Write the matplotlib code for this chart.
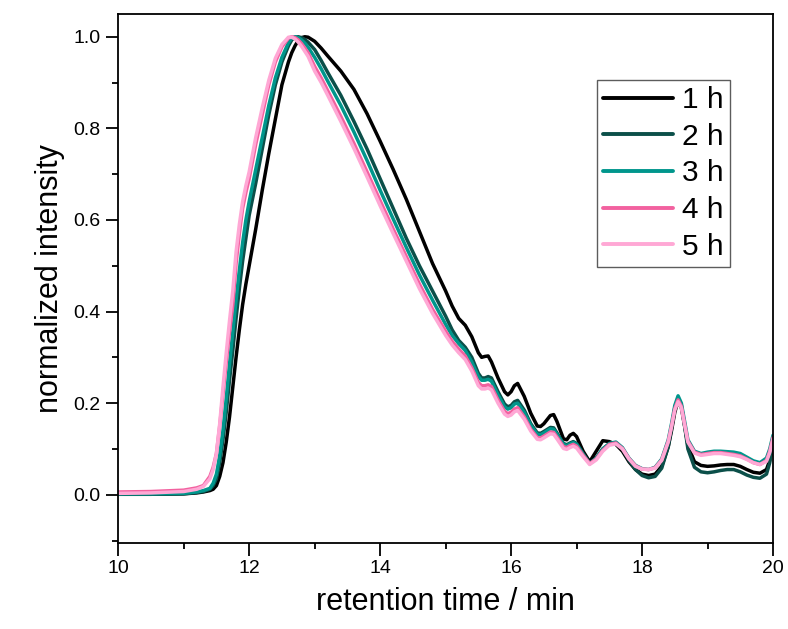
import matplotlib
matplotlib.use("Agg")
import matplotlib.pyplot as plt
from matplotlib.ticker import MultipleLocator, FormatStrFormatter

plt.rcParams['font.family'] = ['Liberation Sans', 'DejaVu Sans']

# retention time grid (min)
time_min = [10.0, 10.5, 11.0, 11.2, 11.3, 11.4, 11.45, 11.5, 11.55, 11.6, 11.65, 11.7, 11.75,
            11.8, 11.85, 11.9, 11.95, 12.0, 12.1, 12.2, 12.3, 12.4, 12.5, 12.6, 12.65, 12.7,
            12.75, 12.8, 12.85, 12.9, 13.0, 13.1, 13.2, 13.4, 13.6, 13.8, 14.0, 14.2, 14.4,
            14.6, 14.8, 15.0, 15.1, 15.2, 15.3, 15.4, 15.5, 15.55, 15.6, 15.65, 15.7, 15.8,
            15.9, 15.95, 16.0, 16.05, 16.1, 16.2, 16.3, 16.4, 16.45, 16.5, 16.6, 16.65, 16.7,
            16.8, 16.85, 16.9, 16.95, 17.0, 17.1, 17.2, 17.3, 17.4, 17.5, 17.6, 17.7, 17.8,
            17.9, 18.0, 18.1, 18.2, 18.3, 18.4, 18.45, 18.5, 18.55, 18.6, 18.65, 18.7, 18.8,
            18.9, 19.0, 19.1, 19.2, 19.3, 19.4, 19.5, 19.6, 19.7, 19.8, 19.9, 19.95, 20.0]

# normalized detector signal for each reaction time
int_1h = [0.001, 0.001, 0.002, 0.004, 0.006, 0.009, 0.012, 0.02, 0.04, 0.07, 0.115, 0.17, 0.235,
          0.30, 0.36, 0.415, 0.46, 0.50, 0.58, 0.665, 0.745, 0.82, 0.895, 0.945, 0.965, 0.98,
          0.992, 0.998, 1.0, 0.999, 0.99, 0.975, 0.958, 0.925, 0.885, 0.832, 0.772, 0.71, 0.645,
          0.575, 0.505, 0.445, 0.412, 0.385, 0.37, 0.345, 0.31, 0.30, 0.302, 0.303, 0.29, 0.255,
          0.225, 0.218, 0.225, 0.238, 0.243, 0.215, 0.178, 0.15, 0.149, 0.155, 0.173, 0.175, 0.16,
          0.122, 0.12, 0.13, 0.134, 0.127, 0.095, 0.072, 0.095, 0.118, 0.116, 0.11, 0.095, 0.072,
          0.055, 0.045, 0.042, 0.045, 0.062, 0.105, 0.14, 0.18, 0.205, 0.19, 0.15, 0.108, 0.072,
          0.064, 0.062, 0.063, 0.065, 0.066, 0.066, 0.062, 0.055, 0.049, 0.047, 0.055, 0.075, 0.12]

int_2h = [0.001, 0.001, 0.002, 0.005, 0.007, 0.012, 0.02, 0.035, 0.07, 0.12, 0.18, 0.25, 0.315,
          0.385, 0.45, 0.51, 0.56, 0.61, 0.68, 0.755, 0.83, 0.895, 0.945, 0.98, 0.993, 0.999,
          1.0, 0.998, 0.994, 0.988, 0.972, 0.948, 0.922, 0.872, 0.815, 0.755, 0.69, 0.625, 0.56,
          0.50, 0.445, 0.39, 0.36, 0.337, 0.322, 0.30, 0.265, 0.255, 0.255, 0.258, 0.255, 0.225,
          0.198, 0.192, 0.195, 0.203, 0.206, 0.185, 0.155, 0.135, 0.134, 0.138, 0.147, 0.146, 0.135,
          0.112, 0.109, 0.113, 0.116, 0.112, 0.09, 0.068, 0.08, 0.10, 0.111, 0.113, 0.10, 0.075,
          0.055, 0.042, 0.037, 0.04, 0.058, 0.105, 0.145, 0.19, 0.212, 0.195, 0.15, 0.10, 0.06,
          0.05, 0.048, 0.05, 0.053, 0.055, 0.055, 0.05, 0.043, 0.038, 0.036, 0.045, 0.07, 0.12]

int_3h = [0.002, 0.002, 0.003, 0.006, 0.009, 0.014, 0.025, 0.045, 0.085, 0.14, 0.21, 0.285, 0.355,
          0.425, 0.49, 0.55, 0.60, 0.64, 0.71, 0.78, 0.85, 0.91, 0.955, 0.987, 0.997, 1.0,
          0.998, 0.993, 0.986, 0.977, 0.955, 0.93, 0.903, 0.85, 0.792, 0.73, 0.665, 0.602, 0.54,
          0.48, 0.425, 0.372, 0.348, 0.33, 0.315, 0.29, 0.258, 0.25, 0.25, 0.252, 0.248, 0.218,
          0.192, 0.187, 0.19, 0.198, 0.20, 0.18, 0.152, 0.132, 0.131, 0.135, 0.144, 0.143, 0.132,
          0.11, 0.107, 0.111, 0.114, 0.11, 0.088, 0.068, 0.08, 0.10, 0.112, 0.115, 0.103, 0.08,
          0.064, 0.057, 0.055, 0.06, 0.078, 0.12, 0.155, 0.195, 0.216, 0.20, 0.16, 0.12, 0.095,
          0.09, 0.093, 0.095, 0.095, 0.094, 0.093, 0.09, 0.082, 0.074, 0.07, 0.08, 0.10, 0.13]

int_4h = [0.006, 0.007, 0.01, 0.015, 0.02, 0.04, 0.06, 0.09, 0.15, 0.22, 0.29, 0.355, 0.415,
          0.505, 0.57, 0.625, 0.66, 0.69, 0.765, 0.83, 0.895, 0.945, 0.978, 0.997, 1.0, 0.998,
          0.993, 0.985, 0.975, 0.965, 0.935, 0.91, 0.882, 0.826, 0.767, 0.705, 0.642, 0.58, 0.52,
          0.46, 0.405, 0.357, 0.335, 0.318, 0.303, 0.277, 0.245, 0.238, 0.238, 0.24, 0.236, 0.207,
          0.182, 0.177, 0.18, 0.187, 0.19, 0.17, 0.143, 0.125, 0.124, 0.128, 0.137, 0.136, 0.126,
          0.105, 0.103, 0.107, 0.11, 0.106, 0.086, 0.068, 0.078, 0.097, 0.11, 0.113, 0.101, 0.079,
          0.063, 0.056, 0.055, 0.059, 0.076, 0.117, 0.15, 0.188, 0.207, 0.193, 0.155, 0.117, 0.093,
          0.088, 0.09, 0.092, 0.092, 0.09, 0.088, 0.085, 0.078, 0.07, 0.066, 0.075, 0.095, 0.125]

int_5h = [0.003, 0.004, 0.007, 0.012, 0.018, 0.035, 0.055, 0.09, 0.155, 0.235, 0.31, 0.38, 0.445,
          0.53, 0.59, 0.64, 0.675, 0.705, 0.78, 0.845, 0.905, 0.953, 0.983, 0.999, 0.999, 0.995,
          0.988, 0.979, 0.968, 0.957, 0.925, 0.90, 0.872, 0.815, 0.756, 0.694, 0.631, 0.57, 0.51,
          0.45, 0.396, 0.348, 0.327, 0.31, 0.295, 0.27, 0.238, 0.231, 0.231, 0.233, 0.229, 0.20,
          0.176, 0.171, 0.174, 0.181, 0.184, 0.165, 0.139, 0.121, 0.12, 0.124, 0.133, 0.132, 0.122,
          0.101, 0.099, 0.103, 0.106, 0.102, 0.083, 0.066, 0.076, 0.095, 0.108, 0.111, 0.10, 0.078,
          0.062, 0.056, 0.055, 0.058, 0.075, 0.115, 0.148, 0.185, 0.203, 0.19, 0.152, 0.115, 0.091,
          0.086, 0.088, 0.09, 0.09, 0.088, 0.086, 0.083, 0.077, 0.07, 0.066, 0.073, 0.092, 0.122]

labels = ["1 h", "2 h", "3 h", "4 h", "5 h"]
colors = ["#000000", "#0b4f49", "#00968c", "#f2619f", "#ffa8d5"]
series = [int_1h, int_2h, int_3h, int_4h, int_5h]

fig = plt.figure(figsize=(7.88, 6.29), dpi=100)
ax = fig.add_axes([0.150, 0.137, 0.831, 0.841])

for y, lab, col in zip(series, labels, colors):
    ax.plot(time_min, y, color=col, lw=2.5, label=lab,
            solid_joinstyle='round', solid_capstyle='round')

ax.set_xlim(10, 20)
ax.set_ylim(-0.105, 1.05)
ax.xaxis.set_major_locator(MultipleLocator(2))
ax.xaxis.set_minor_locator(MultipleLocator(1))
ax.yaxis.set_major_locator(MultipleLocator(0.2))
ax.yaxis.set_minor_locator(MultipleLocator(0.1))
ax.yaxis.set_major_formatter(FormatStrFormatter('%.1f'))

ax.tick_params(axis='both', which='major', direction='out', length=9, width=1.3,
               labelsize=14, top=False, right=False)
ax.tick_params(axis='both', which='minor', direction='out', length=4.5, width=1.3,
               top=False, right=False)
for sp in ax.spines.values():
    sp.set_linewidth(1.3)

ax.set_xlabel("retention time / min", fontsize=22, labelpad=7)
ax.set_ylabel("normalized intensity", fontsize=22, labelpad=6)

leg = ax.legend(loc='lower right', bbox_to_anchor=(0.934, 0.522), fontsize=21.5,
                frameon=True, fancybox=False, edgecolor='#333333', handlelength=2.35,
                handletextpad=0.3, labelspacing=0.29, borderpad=0.2, borderaxespad=0)
leg.get_frame().set_linewidth(1.0)
for line in leg.get_lines():
    line.set_linewidth(2.8)

fig.savefig("out.png", dpi=100)
